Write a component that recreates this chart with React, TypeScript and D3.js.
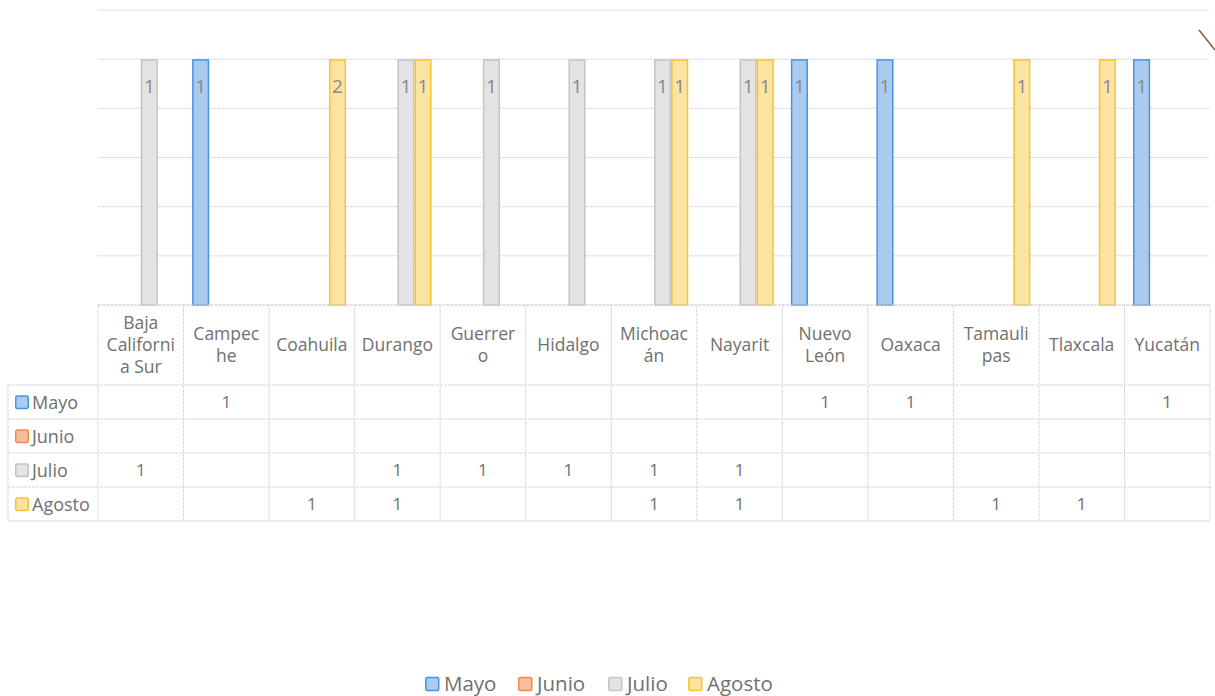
import React from "react";
import * as d3 from "d3";

const categories = ["Baja California Sur","Campeche","Coahuila","Durango","Guerrero","Hidalgo","Michoacán","Nayarit","Nuevo León","Oaxaca","Tamaulipas","Tlaxcala","Yucatán"];
const categoryLines = [["Baja","Californi","a Sur"],["Campec","he"],["Coahuila"],["Durango"],["Guerrer","o"],["Hidalgo"],["Michoac","án"],["Nayarit"],["Nuevo","León"],["Oaxaca"],["Tamauli","pas"],["Tlaxcala"],["Yucatán"]];
const seriesNames = ["Mayo","Junio","Julio","Agosto"];
const mayo = [null,1,null,null,null,null,null,null,1,1,null,null,1];
const junio = [null,null,null,null,null,null,null,null,null,null,null,null,null];
const julio = [1,null,null,1,1,1,1,1,null,null,null,null,null];
const agosto = [null,null,1,1,null,null,1,1,null,null,1,1,null];
// data label shown on the bars (as printed in the chart)
const agostoBarLabels = [null,null,"2","1",null,null,"1","1",null,null,"1","1",null];
const yTicks = [0,0.2,0.4,0.6,0.8,1.0,1.2];

const seriesValues = [mayo, junio, julio, agosto];
const fills = ["#a9cbf0","#f6bf9c","#e3e3e3","#fde3a2"];
const strokes = ["#4a93e2","#ee8a4e","#c4c4c4","#f7c42e"];

const FONT = "'Open Sans', 'Noto Sans', sans-serif";
const TXT = "#707070";

export default function App() {
  const left = 98, right = 1210, top = 10, base = 305;
  const x0 = d3.scaleBand<string>().domain(categories).range([left, right]).padding(0);
  const x1 = d3.scaleBand<string>().domain(seriesNames).range([0, x0.bandwidth()]).paddingInner(0).paddingOuter(0.5);
  const y = d3.scaleLinear().domain([0, 1.2]).range([base, top]);

  const rowTops = [385, 419, 453, 487];
  const rowH = 34;
  const tableLeft = 8;
  const tableBottom = 521;
  const grid = { stroke: "#d6d6d6", strokeWidth: 1, strokeDasharray: "3 1" };

  const legendX = [425, 518, 608, 688];

  return (
    <div style={{ position: "fixed", left: 0, top: 0 }}>
      <svg width={1215} height={696} style={{ display: "block", background: "#fff" }}>
        {/* gridlines */}
        {yTicks.map((t) => (
          <line key={t} x1={left} x2={right} y1={y(t)} y2={y(t)} {...grid} />
        ))}
        {/* bars */}
        {seriesValues.map((vals, si) =>
          vals.map((v, ci) =>
            v == null ? null : (
              <rect
                key={`${si}-${ci}`}
                x={x0(categories[ci])! + x1(seriesNames[si])! + 0.75}
                y={y(v) + 0.75}
                width={x1.bandwidth() - 1.5}
                height={base - y(v) - 0.75}
                fill={fills[si]}
                stroke={strokes[si]}
                strokeWidth={1.5}
              />
            )
          )
        )}
        {/* bar labels */}
        {seriesValues.map((vals, si) =>
          vals.map((v, ci) => {
            if (v == null) return null;
            const lbl = si === 3 ? agostoBarLabels[ci] : String(v);
            return (
              <text
                key={`l${si}-${ci}`}
                x={x0(categories[ci])! + x1(seriesNames[si])! + x1.bandwidth() / 2}
                y={y(v) + 34}
                textAnchor="middle"
                fontFamily={FONT}
                fontSize={19}
                fill="#888888"
              >
                {lbl}
              </text>
            );
          })
        )}
        {/* table horizontal lines */}
        <line x1={left} x2={right} y1={base} y2={base} {...grid} />
        {[...rowTops, tableBottom].map((ry) => (
          <line key={ry} x1={tableLeft} x2={right} y1={ry} y2={ry} {...grid} />
        ))}
        {/* vertical lines */}
        {categories.map((c) => (
          <line key={c} x1={x0(c)!} x2={x0(c)!} y1={base} y2={tableBottom} {...grid} />
        ))}
        <line x1={right} x2={right} y1={base} y2={tableBottom} {...grid} />
        <line x1={tableLeft} x2={tableLeft} y1={rowTops[0]} y2={tableBottom} {...grid} />
        {/* category header */}
        {categories.map((c, ci) => {
          const lines = categoryLines[ci];
          const cx = x0(c)! + x0.bandwidth() / 2;
          const lh = 22;
          const startY = 345 - ((lines.length - 1) * lh) / 2;
          return (
            <text key={c} textAnchor="middle" fontFamily={FONT} fontSize={17.5} fill={TXT}>
              {lines.map((ln, li) => (
                <tspan key={li} x={cx} y={startY + li * lh + 6}>
                  {ln}
                </tspan>
              ))}
            </text>
          );
        })}
        {/* row labels and values */}
        {seriesNames.map((s, si) => (
          <g key={s}>
            <rect x={15.75} y={rowTops[si] + rowH / 2 - 6} width={12.5} height={12.5} rx={1.5} fill={fills[si]} stroke={strokes[si]} strokeWidth={1.5} />
            <text x={32} y={rowTops[si] + rowH / 2 + 6.5} fontFamily={FONT} fontSize={18} fill={TXT}>
              {s}
            </text>
            {seriesValues[si].map((v, ci) =>
              v == null ? null : (
                <text
                  key={ci}
                  x={x0(categories[ci])! + x0.bandwidth() / 2}
                  y={rowTops[si] + rowH / 2 + 6}
                  textAnchor="middle"
                  fontFamily={FONT}
                  fontSize={17}
                  fill={TXT}
                >
                  {v}
                </text>
              )
            )}
          </g>
        ))}
        {/* legend */}
        {seriesNames.map((s, si) => (
          <g key={`lg${s}`}>
            <rect x={legendX[si] + 0.75} y={677.5} width={13} height={13} rx={1.5} fill={fills[si]} stroke={strokes[si]} strokeWidth={1.5} />
            <text x={legendX[si] + 19} y={691} fontFamily={FONT} fontSize={20.5} fill={TXT}>
              {s}
            </text>
          </g>
        ))}
        {/* scan artifact in corner */}
        <line x1={1199} y1={30} x2={1215} y2={50} stroke="#8a5a44" strokeWidth={1.5} />
      </svg>
    </div>
  );
}
